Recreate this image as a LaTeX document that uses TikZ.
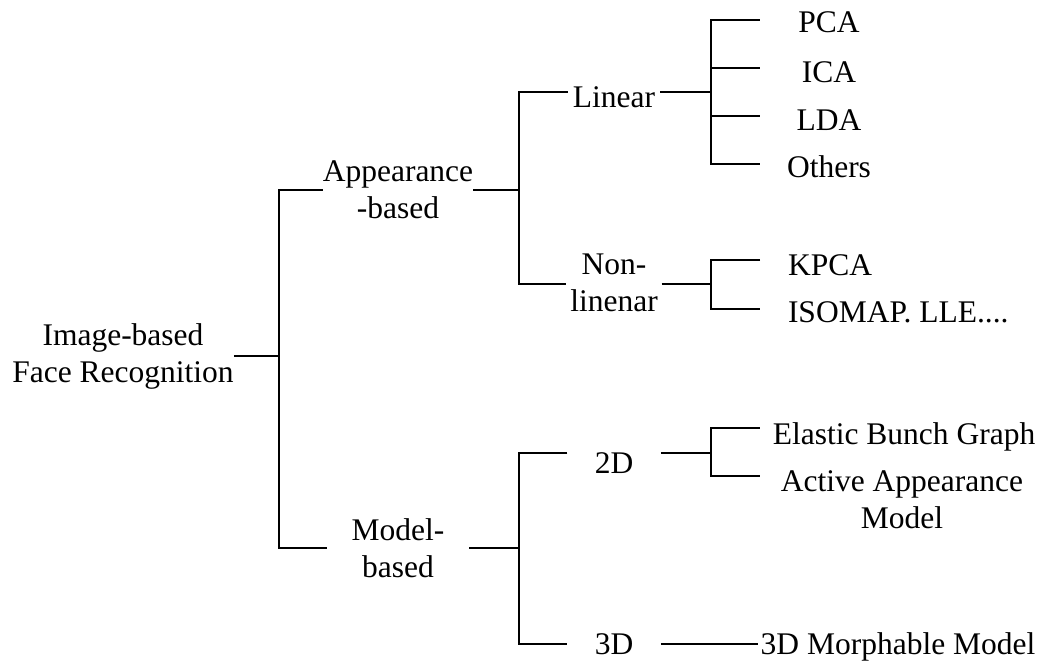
\documentclass[tikz,border=0pt]{standalone}
\usepackage{fontspec}
\setmainfont{Liberation Serif}
\begin{document}
\begin{tikzpicture}[x=1pt,y=-1pt,
  every node/.style={inner sep=0pt,font=\fontsize{31.5}{37}\selectfont},
  lbl/.style={align=center},
  leafc/.style={text width=138pt,align=center,anchor=base},
  leafl/.style={anchor=base west,outer xsep=28pt},
  conn/.style={line width=2pt,black}]
\useasboundingbox (0,0) rectangle (1047,662);

% junction coordinates
\coordinate (v0t) at (279,190); \coordinate (v0m) at (279,356); \coordinate (v0b) at (279,548);
\coordinate (v1t) at (519,92);  \coordinate (v1m) at (519,190); \coordinate (v1b) at (519,284);
\coordinate (v2a) at (711,20);  \coordinate (v2b) at (711,68);  \coordinate (v2c) at (711,116);
\coordinate (v2d) at (711,164); \coordinate (v2m) at (711,92);
\coordinate (v3t) at (711,260); \coordinate (v3m) at (711,284); \coordinate (v3b) at (711,309);
\coordinate (v4t) at (519,453); \coordinate (v4m) at (519,548); \coordinate (v4b) at (519,644);
\coordinate (v5t) at (711,428); \coordinate (v5m) at (711,453); \coordinate (v5b) at (711,476);

% nodes
\node[lbl] (root) at (123,356) {Image-based\\Face Recognition};
\node[lbl] (app) at (398,190) {Appearance\\-based};
\node[lbl,outer xsep=25pt] (mod) at (398,548) {Model-\\based};
\node[anchor=base,outer xsep=5pt] (lin) at (614,107) {Linear};
\node[lbl,outer xsep=4pt] (non) at (614,283) {Non-\\linenar};
\node[leafc] (pca) at (829,32) {PCA};
\node[leafc] (ica) at (829,82) {ICA};
\node[leafc] (lda) at (829,130) {LDA};
\node[leafc] (oth) at (829,177) {Others};
\node[leafl] (kpca) at (760,275) {KPCA};
\node[leafl] (iso) at (760,322) {ISOMAP. LLE....};
\node[anchor=base,outer xsep=27.5pt] (d2) at (614,473) {2D};
\node[anchor=base,outer xsep=27.5pt] (d3) at (614,654) {3D};
\node[anchor=base,outer xsep=13pt] (ebg) at (904,444) {Elastic Bunch Graph};
\node[lbl,outer xsep=21pt] (aam) at (902,500) {Active Appearance\\Model};
\node[anchor=base,outer xsep=3pt] (mm) at (898,654) {3D Morphable Model};

% connectors
\draw[conn] (root.east) -- (v0m);
\draw[conn] (v0t -| app.west) -- (v0t) -- (v0b) -- (v0b -| mod.west);

\draw[conn] (app.east |- v1m) -- (v1m);
\draw[conn] (v1t -| lin.west) -- (v1t) -- (v1b) -- (v1b -| non.west);

\draw[conn] (lin.east |- v2m) -- (v2m);
\draw[conn] (v2a -| pca.west) -- (v2a) -- (v2d) -- (v2d -| oth.west);
\draw[conn] (v2b) -- (v2b -| ica.west);
\draw[conn] (v2c) -- (v2c -| lda.west);

\draw[conn] (non.east |- v3m) -- (v3m);
\draw[conn] (v3t -| kpca.west) -- (v3t) -- (v3b) -- (v3b -| iso.west);

\draw[conn] (mod.east |- v4m) -- (v4m);
\draw[conn] (v4t -| d2.west) -- (v4t) -- (v4b) -- (v4b -| d3.west);

\draw[conn] (d2.east |- v5m) -- (v5m);
\draw[conn] (v5t -| ebg.west) -- (v5t) -- (v5b) -- (v5b -| aam.west);

\draw[conn] (d3.east |- v4b) -- (v4b -| mm.west);
\end{tikzpicture}
\end{document}
